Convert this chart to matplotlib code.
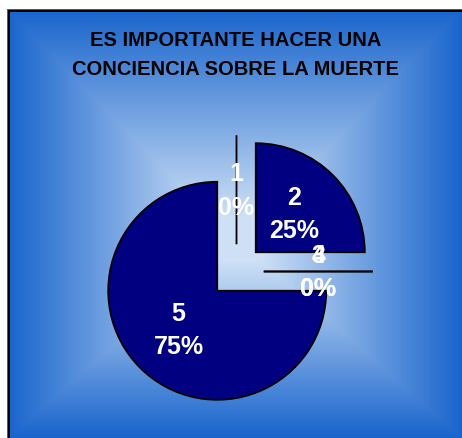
import numpy as np
import matplotlib
matplotlib.use("Agg")
import matplotlib.pyplot as plt
from matplotlib.lines import Line2D

plt.rcParams['font.family'] = ['Liberation Sans', 'DejaVu Sans']

# data
categorias = ['1', '2', '3', '4', '5']
valores = [0, 1, 0, 0, 3]
titulo = "ES IMPORTANTE HACER UNA\nCONCIENCIA SOBRE LA MUERTE"

W, H = 462, 439
fig = plt.figure(figsize=(W / 100, H / 100), dpi=100)
fig.patch.set_facecolor('white')

# chart area with rectangular "from centre" gradient
left_px, top_px = 7, 10
bg = fig.add_axes([left_px / W, 0, 1 - left_px / W, 1 - top_px / H])
bg.set_axis_off()
nx, ny = W - left_px, H - top_px
xx, yy = np.meshgrid(np.arange(nx) + 0.5 + left_px, np.arange(ny) + 0.5 + top_px)
x0, x1, y0, y1 = 212.0, 262.0, 218.0, 262.0   # light centre rectangle
u = np.where(xx < x0, (x0 - xx) / (x0 - left_px),
             np.where(xx > x1, (xx - x1) / (W - x1), 0.0))
v = np.where(yy < y0, (y0 - yy) / (y0 - top_px),
             np.where(yy > y1, (yy - y1) / (H - y1), 0.0))
t = np.clip(np.maximum(u, v), 0, 1)
c_in = np.array([205, 224, 246]) / 255
c_out = np.array([24, 100, 204]) / 255
img = c_in[None, None, :] * (1 - t[..., None]) + c_out[None, None, :] * t[..., None]
bg.imshow(img, aspect='auto', interpolation='bilinear')

# frame lines (blue outer, black inner) on left and top
for off, col, lw in [(0.5, '#1a66cc', 1.0), (2.0, 'black', 2.0)]:
    xl = (left_px + off) / W
    yl = 1 - (top_px + off) / H
    fig.add_artist(Line2D([xl, xl], [0, yl], color=col, lw=lw * 0.72))
    fig.add_artist(Line2D([xl, 1], [yl, yl], color=col, lw=lw * 0.72))

# pie
R = 109.0
pcx, pcy = 236.5, 272.5
ax = fig.add_axes([0, 0, 1, 1])
ax.set_axis_off()
wedges, _, autotexts = ax.pie(
    valores, explode=[0.25] * len(valores), startangle=90, counterclock=False,
    colors=['#000080'] * len(valores), autopct='%1.0f%%', pctdistance=0.5,
    wedgeprops=dict(edgecolor='black', linewidth=1.3),
    textprops=dict(color='white', fontsize=18, fontweight='bold'))
for cat, at in zip(categorias, autotexts):
    at.set_text(f"{cat}\n{at.get_text()}")
    at.set_linespacing(1.5)
ax.set_xlim(-pcx / R, (W - pcx) / R)
ax.set_ylim(-(H - pcy) / R, pcy / R)
ax.set_aspect('auto')

fig.text(236 / W, 1 - 55 / H, titulo, ha='center', va='center',
         fontsize=14.5, fontweight='bold', color='black', linespacing=1.65)

fig.savefig('out.png', dpi=100)
